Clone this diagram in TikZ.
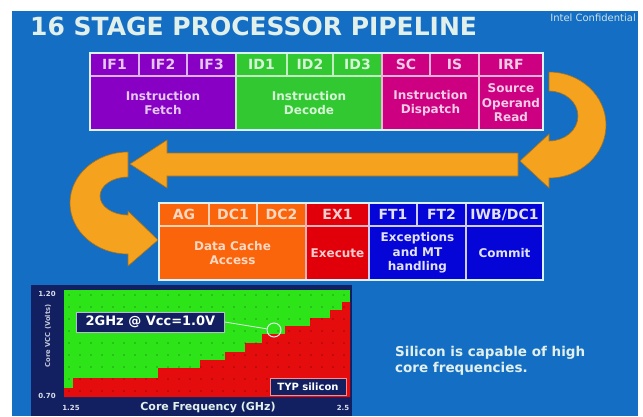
\documentclass[tikz,border=0pt]{standalone}
\usepackage{fontspec}
\setmainfont{DejaVu Sans}
\usetikzlibrary{positioning}

\definecolor{bgblue}{RGB}{20,110,196}
\definecolor{titlec}{RGB}{226,240,236}
\definecolor{fetchc}{RGB}{135,0,195}
\definecolor{decodec}{RGB}{50,200,50}
\definecolor{dispc}{RGB}{205,0,130}
\definecolor{cachec}{RGB}{250,100,10}
\definecolor{exc}{RGB}{225,0,10}
\definecolor{commitc}{RGB}{5,5,215}
\definecolor{loopc}{RGB}{245,162,30}
\definecolor{navy}{RGB}{18,32,98}
\definecolor{passc}{RGB}{45,228,25}
\definecolor{failc}{RGB}{228,12,12}

\begin{document}
\begin{tikzpicture}[
  x=1pt, y=-1pt,
  cell/.style={draw, line width=1.2pt, anchor=north west, inner sep=0pt, outer sep=0pt, align=center},
  stage/.style={cell, minimum height=23pt, font=\bfseries\fontsize{14}{14}\selectfont},
  unit/.style={cell, minimum height=54pt, font=\bfseries\fontsize{12}{14.5}\selectfont},
  fetch/.style={fill=fetchc, draw=fetchc!30!white, text=fetchc!22!white},
  decode/.style={fill=decodec, draw=decodec!30!white, text=decodec!20!white},
  disp/.style={fill=dispc, draw=dispc!30!white, text=dispc!20!white},
  cache/.style={fill=cachec, draw=cachec!30!white, text=cachec!25!white},
  exec/.style={fill=exc, draw=exc!30!white, text=exc!20!white},
  commit/.style={fill=commitc, draw=commitc!20!white, text=commitc!12!white},
  loop/.style={fill=loopc, draw=loopc!70!black, line width=0.6pt},
  tag/.style={fill=navy, draw=white!70!navy, line width=0.8pt, text=white, inner sep=0pt},
  axis/.style={font=\bfseries\fontsize{7}{7}\selectfont, text=white!85!navy, inner sep=0pt}
]

% Background
\useasboundingbox (0,0) rectangle (643,416);
\fill[bgblue] (12,11) rectangle (638,416);

% Title
\node[anchor=west, inner sep=0pt, font=\bfseries\fontsize{25}{25}\selectfont, text=titlec] (title) at (30,26) {16 STAGE PROCESSOR PIPELINE};
\node[anchor=east, inner sep=0pt, font=\fontsize{10}{10}\selectfont, text=titlec!90!bgblue] (conf) at (636,18) {Intel Confidential};

% Front end stages
\node[stage, fetch, minimum width=49pt]  (if1) at (90,53)  {IF1};
\node[stage, fetch, minimum width=48pt]  (if2) at (139,53) {IF2};
\node[stage, fetch, minimum width=49pt]  (if3) at (187,53) {IF3};
\node[stage, decode, minimum width=51pt] (id1) at (236,53) {ID1};
\node[stage, decode, minimum width=46pt] (id2) at (287,53) {ID2};
\node[stage, decode, minimum width=49pt] (id3) at (333,53) {ID3};
\node[stage, disp, minimum width=48pt]   (sc)  at (382,53) {SC};
\node[stage, disp, minimum width=49pt]   (is)  at (430,53) {IS};
\node[stage, disp, minimum width=64pt]   (irf) at (479,53) {IRF};

\node[unit, fetch, minimum width=146pt]  (ifu) at (90,76)  {Instruction\\Fetch};
\node[unit, decode, minimum width=146pt] (idu) at (236,76) {Instruction\\Decode};
\node[unit, disp, minimum width=97pt]    (dsp) at (382,76) {Instruction\\Dispatch};
\node[unit, disp, minimum width=64pt]    (sor) at (479,76) {Source\\Operand\\Read};
\draw[white!85!cyan, line width=1.4pt] (if1.north west) rectangle (sor.south east);

% Back end stages
\node[stage, cache, minimum width=50pt]  (ag)  at (159,203) {AG};
\node[stage, cache, minimum width=48pt]  (dc1) at (209,203) {DC1};
\node[stage, cache, minimum width=49pt]  (dc2) at (257,203) {DC2};
\node[stage, exec, minimum width=63pt]   (ex1) at (306,203) {EX1};
\node[stage, commit, minimum width=48pt] (ft1) at (369,203) {FT1};
\node[stage, commit, minimum width=49pt] (ft2) at (417,203) {FT2};
\node[stage, commit, minimum width=77pt] (iwb) at (466,203) {IWB/DC1};

\node[unit, cache, minimum width=147pt] (dca) at (159,226) {Data Cache\\Access};
\node[unit, exec, minimum width=63pt]   (exu) at (306,226) {Execute};
\node[unit, commit, minimum width=97pt] (exh) at (369,226) {Exceptions\\and MT\\handling};
\node[unit, commit, minimum width=77pt] (cmt) at (466,226) {Commit};
\draw[white!85!cyan, line width=1.4pt] (ag.north west) rectangle (cmt.south east);

% Return arrows
\filldraw[loop] (549,72) arc[start angle=-90, end angle=90, x radius=57, y radius=53]
  -- (549,188) -- (520,161) -- (549,134) -- (549,141)
  arc[start angle=90, end angle=-90, x radius=29, y radius=25] -- cycle;
\filldraw[loop] (518,153) -- (167,153) -- (167,140) -- (130,164) -- (167,188) -- (167,176) -- (518,176) -- cycle;
\filldraw[loop] (128,152) arc[start angle=270, end angle=90, x radius=58, y radius=51]
  -- (128,266) -- (158,240) -- (128,211) -- (128,215)
  arc[start angle=90, end angle=270, x radius=28, y radius=19] -- cycle;

% Shmoo plot
\fill[navy] (31,285) rectangle (352,416);
\fill[passc] (64,290) rectangle (350,397);
\fill[failc] (64,397) -- (64,388) -- (73,388) -- (73,378) -- (158,378) -- (158,368)
  -- (200,368) -- (200,360) -- (225,360) -- (225,352) -- (245,352) -- (245,343)
  -- (262,343) -- (262,334) -- (285,334) -- (285,326) -- (310,326) -- (310,318)
  -- (330,318) -- (330,310) -- (342,310) -- (342,302) -- (350,302) -- (350,397) -- cycle;
\foreach \i in {0,...,25}
  \foreach \j in {0,...,8}
    \fill[black, opacity=0.3] (69+11*\i,295+12*\j) circle[radius=0.9];

\node[axis] (ytop) at (47,294) {1.20};
\node[axis] (ybot) at (47,396) {0.70};
\node[axis] (xlo)  at (71,408) {1.25};
\node[axis] (xhi)  at (343,408) {2.5};
\node[font=\bfseries\fontsize{11}{12}\selectfont, text=titlec, inner sep=0pt] (xlab) at (208,408) {Core Frequency (GHz)};
\node[rotate=90, font=\bfseries\fontsize{6.8}{7}\selectfont, text=white!75!navy, inner sep=0pt] (ylab) at (48,336) {Core VCC (Volts)};

\node[tag, anchor=west, minimum width=148pt, minimum height=20pt, font=\bfseries\fontsize{13}{13}\selectfont] (opnote) at (76,322) {2GHz @ Vcc=1.0V};
\node[circle, draw=titlec, line width=1pt, minimum size=14pt, inner sep=0pt] (oppt) at (274,330) {};
\draw[titlec, line width=0.8pt] (opnote.east) -- (oppt);
\node[tag, draw=red!45!white, minimum width=76pt, minimum height=17pt, font=\bfseries\fontsize{10}{10}\selectfont] (typ) at (308,386.5) {TYP silicon};

\node[anchor=west, align=left, inner sep=0pt, font=\bfseries\fontsize{13.5}{16.5}\selectfont, text=titlec] (note) at (395,361) {Silicon is capable of high\\core frequencies.};

\end{tikzpicture}
\end{document}
